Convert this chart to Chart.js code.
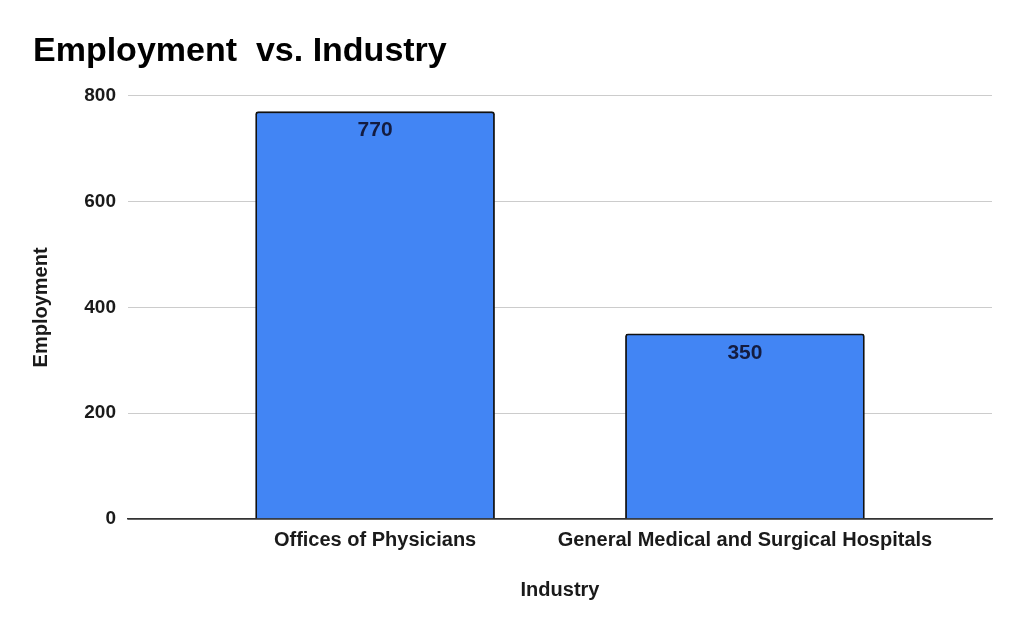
<!DOCTYPE html>
<html>
<head>
<meta charset="utf-8">
<script src="https://cdn.jsdelivr.net/npm/chart.js@4/dist/chart.umd.min.js"></script>
<style>
  html, body { margin: 0; padding: 0; background: #fff; }
  #wrap { width: 1024px; height: 633px; }
</style>
</head>
<body>
<div id="wrap"><canvas id="chart" width="1024" height="633"></canvas></div>
<script>
// data
const industries = ['Offices of Physicians', 'General Medical and Surgical Hospitals'];
const employment = [770, 350];
const yTicks = [0, 200, 400, 600, 800];

const FONT = "'Liberation Sans', Arial, sans-serif";

// draw value labels inside the top of each bar
const valueLabels = {
    id: 'valueLabels',
    afterDatasetsDraw(chart) {
        const ctx = chart.ctx;
        const meta = chart.getDatasetMeta(0);
        ctx.save();
        ctx.font = 'bold 21px ' + FONT;
        ctx.fillStyle = '#141c40';
        ctx.textAlign = 'center';
        ctx.textBaseline = 'middle';
        meta.data.forEach((bar, i) => {
            ctx.fillText(employment[i], bar.x, bar.y + 19);
        });
        ctx.restore();
    }
};

new Chart(document.getElementById('chart'), {
    type: 'bar',
    data: {
        datasets: [{
            data: employment.map((v, i) => ({ x: i, y: v })),
            backgroundColor: '#4285f4',
            borderColor: '#111111',
            borderWidth: 1.8,
            borderSkipped: 'bottom',
            borderRadius: { topLeft: 3, topRight: 3 },
            barThickness: 239
        }]
    },
    options: {
        responsive: false,
        animation: false,
        layout: { padding: { left: 33, right: 32, top: 0, bottom: 0 } },
        plugins: {
            legend: { display: false },
            tooltip: { enabled: false },
            title: {
                display: true,
                text: 'Employment  vs. Industry',
                align: 'start',
                color: '#000',
                font: { family: FONT, size: 34, weight: 'bold' },
                padding: { top: 31, bottom: 24 }
            }
        },
        scales: {
            x: {
                type: 'linear',
                offset: false,
                min: -0.668,
                max: 1.668,
                afterBuildTicks: (scale) => { scale.ticks = industries.map((c, i) => ({ value: i })); },
                afterFit: (scale) => { scale.height = 114; },
                ticks: {
                    callback: (v) => industries[v],
                    color: '#1a1a1a',
                    font: { family: FONT, size: 20, weight: 'bold' },
                    padding: 9,
                    maxRotation: 0,
                    autoSkip: false
                },
                grid: { display: false, drawTicks: false },
                border: { display: true, color: '#333333', width: 1.5 },
                title: {
                    display: true,
                    text: 'Industry',
                    color: '#1a1a1a',
                    font: { family: FONT, size: 20, weight: 'bold' },
                    padding: { top: 0, bottom: 31 }
                }
            },
            y: {
                min: 0,
                max: 800,
                afterBuildTicks: (scale) => { scale.ticks = yTicks.map(v => ({ value: v })); },
                afterFit: (scale) => { scale.width = 95; },
                ticks: {
                    color: '#1a1a1a',
                    font: { family: FONT, size: 19, weight: 'bold' },
                    padding: 12
                },
                grid: {
                    drawTicks: false,
                    color: (c) => c.tick.value === 0 ? '#333333' : '#cccccc',
                    lineWidth: (c) => c.tick.value === 0 ? 1.5 : 1
                },
                border: { display: false },
                title: {
                    display: true,
                    text: 'Employment',
                    color: '#1a1a1a',
                    font: { family: FONT, size: 20, weight: 'bold', lineHeight: 1 },
                    padding: { top: -2, bottom: 0 }
                }
            }
        }
    },
    plugins: [valueLabels]
});
</script>
</body>
</html>
